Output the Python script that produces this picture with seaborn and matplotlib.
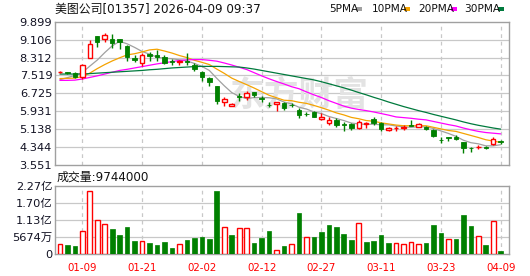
import matplotlib
matplotlib.use("Agg")
import matplotlib.pyplot as plt
from matplotlib.patches import Rectangle
import seaborn as sns
import numpy as np
import pandas as pd

# ---------------- data ----------------
title = "美图公司[01357] 2026-04-09 09:37"
vol_title = "成交量:9744000"

opens = [7.67, 7.66, 7.61, 7.46, 8.28, 9.28, 9.12, 9.12, 9.12, 8.82,
         8.30, 8.08, 8.45, 8.42, 8.32, 8.18, 8.10, 8.15, 7.99, 7.67,
         7.42, 7.05, 6.33, 6.17, 6.62, 6.58, 6.79, 6.53, 6.22, 6.25,
         6.31, 6.23, 5.99, 5.83, 5.90, 5.57, 5.40, 5.53, 5.36, 5.35,
         5.20, 5.35, 5.57, 5.40, 5.10, 5.18, 5.21, 5.33, 5.25, 5.25,
         5.10, 4.67, 4.77, 4.80, 4.57, 4.31, 4.35, 4.34, 4.47, 4.63]
highs = [7.72, 7.68, 7.66, 8.01, 9.09, 9.28, 9.38, 9.35, 9.12, 8.87,
         8.42, 8.50, 8.56, 8.63, 8.41, 8.23, 8.20, 8.50, 8.06, 7.70,
         7.43, 7.06, 6.55, 6.30, 6.72, 6.84, 6.80, 6.61, 6.33, 6.35,
         6.35, 6.28, 6.06, 5.90, 5.93, 5.84, 5.66, 5.62, 5.47, 5.42,
         5.54, 5.45, 5.66, 5.47, 5.24, 5.26, 5.32, 5.53, 5.40, 5.27,
         5.13, 4.78, 4.80, 4.88, 4.58, 4.36, 4.43, 4.40, 4.77, 4.66]
lows = [7.64, 7.60, 7.39, 7.35, 8.28, 8.79, 9.01, 8.72, 8.68, 8.17,
        8.10, 7.94, 8.17, 8.17, 8.02, 7.98, 7.98, 7.97, 7.73, 7.28,
        7.05, 6.25, 6.18, 6.15, 6.37, 6.43, 6.55, 6.35, 6.12, 5.96,
        5.99, 6.13, 5.65, 5.72, 5.66, 5.54, 5.31, 5.25, 5.07, 5.12,
        5.13, 5.17, 5.32, 5.07, 5.07, 5.07, 5.10, 5.28, 5.22, 5.10,
        4.80, 4.54, 4.63, 4.66, 4.10, 4.14, 4.27, 4.27, 4.42, 4.47]
closes = [7.69, 7.63, 7.46, 7.97, 8.91, 9.01, 9.30, 8.94, 9.00, 8.35,
          8.20, 8.41, 8.36, 8.35, 8.08, 8.12, 8.14, 8.12, 7.79, 7.43,
          7.21, 6.40, 6.47, 6.27, 6.58, 6.72, 6.65, 6.48, 6.20, 6.33,
          6.06, 6.21, 5.75, 5.81, 5.69, 5.69, 5.54, 5.32, 5.34, 5.17,
          5.47, 5.43, 5.40, 5.16, 5.20, 5.19, 5.23, 5.30, 5.35, 5.13,
          4.85, 4.65, 4.75, 4.70, 4.32, 4.29, 4.37, 4.32, 4.71, 4.55]

ma5 = [7.33, 7.42, 7.52, 7.65, 7.93, 8.20, 8.53, 8.83, 9.03, 8.92,
       8.76, 8.58, 8.46, 8.33, 8.28, 8.26, 8.21, 8.16, 8.05, 7.92,
       7.74, 7.39, 7.06, 6.76, 6.59, 6.49, 6.54, 6.54, 6.53, 6.48,
       6.34, 6.26, 6.11, 6.03, 5.90, 5.83, 5.70, 5.61, 5.52, 5.41,
       5.37, 5.35, 5.36, 5.33, 5.33, 5.28, 5.24, 5.22, 5.25, 5.24,
       5.17, 5.06, 4.95, 4.82, 4.65, 4.54, 4.49, 4.40, 4.40, 4.45]
ma10 = [7.38, 7.39, 7.40, 7.47, 7.62, 7.82, 8.00, 8.16, 8.30, 8.43,
        8.48, 8.56, 8.65, 8.68, 8.60, 8.51, 8.40, 8.31, 8.19, 8.10,
        8.00, 7.80, 7.61, 7.40, 7.25, 7.11, 6.96, 6.80, 6.64, 6.53,
        6.42, 6.40, 6.33, 6.28, 6.19, 6.09, 5.98, 5.86, 5.77, 5.66,
        5.60, 5.52, 5.49, 5.42, 5.37, 5.32, 5.29, 5.29, 5.29, 5.29,
        5.22, 5.15, 5.08, 5.04, 4.95, 4.86, 4.77, 4.67, 4.61, 4.55]
ma20 = [7.30, 7.30, 7.31, 7.36, 7.43, 7.50, 7.58, 7.66, 7.74, 7.79,
        7.85, 7.91, 7.97, 8.03, 8.08, 8.13, 8.18, 8.21, 8.22, 8.22,
        8.19, 8.15, 8.07, 7.98, 7.88, 7.78, 7.64, 7.50, 7.37, 7.25,
        7.14, 7.02, 6.93, 6.79, 6.66, 6.54, 6.40, 6.28, 6.16, 6.07,
        6.01, 5.96, 5.90, 5.83, 5.76, 5.68, 5.65, 5.62, 5.58, 5.55,
        5.48, 5.41, 5.34, 5.28, 5.19, 5.11, 5.04, 4.99, 4.96, 4.93]
ma30 = [7.58, 7.58, 7.58, 7.58, 7.60, 7.62, 7.64, 7.66, 7.68, 7.70,
        7.72, 7.74, 7.77, 7.79, 7.82, 7.85, 7.87, 7.89, 7.91, 7.92,
        7.92, 7.92, 7.91, 7.90, 7.89, 7.85, 7.80, 7.74, 7.68, 7.62,
        7.56, 7.50, 7.44, 7.38, 7.32, 7.24, 7.15, 7.06, 6.97, 6.87,
        6.76, 6.66, 6.55, 6.45, 6.34, 6.24, 6.14, 6.05, 5.96, 5.88,
        5.79, 5.71, 5.63, 5.55, 5.46, 5.38, 5.31, 5.25, 5.19, 5.14]

# volume in 亿 shares
volumes = [0.343, 0.310, 0.277, 0.775, 2.104, 1.141, 1.019, 0.842, 0.653, 0.919,
           0.454, 0.443, 0.388, 0.310, 0.421, 0.210, 0.343, 0.487, 0.554, 0.576,
           0.509, 2.104, 0.897, 0.642, 0.864, 0.864, 0.376, 0.543, 0.775, 0.133,
           0.277, 0.343, 1.373, 0.565, 0.576, 0.742, 0.974, 0.908, 0.675, 0.476,
           1.041, 0.410, 0.443, 0.642, 0.376, 0.365, 0.343, 0.399, 0.343, 0.376,
           0.974, 0.720, 0.498, 0.509, 1.307, 0.941, 0.598, 0.310, 1.096, 0.0974]
vol_dir = list("rggrrrrgggg" "rggggrgggggrgrrgggrgrgrggggggrggggrrrrgggrgggrgrg")

price_ticks = [3.551, 4.3445, 5.138, 5.9315, 6.725, 7.5185, 8.312, 9.1055, 9.899]
price_labels = ["3.551", "4.344", "5.138", "5.931", "6.725", "7.519", "8.312", "9.106", "9.899"]
vol_ticks = [0, 0.5674, 1.1348, 1.7022, 2.2696]
vol_labels = ["0", "5674万", "1.13亿", "1.70亿", "2.27亿"]
date_pos = [3, 11, 19, 27, 35, 43, 51, 59]
date_labels = ["01-09", "01-21", "02-02", "02-12", "02-27", "03-11", "03-23", "04-09"]

ma_names = ["5PMA", "10PMA", "20PMA", "30PMA"]
ma_colors = ["#a0a0a0", "#f5a300", "#ff00ff", "#007a3d"]

# ---------------- style ----------------
sns.set_style("white")
plt.rcParams["font.family"] = ["DejaVu Sans", "Noto Sans CJK SC"]
plt.rcParams["axes.unicode_minus"] = False

RED = "#ff0000"
GREEN = "#008000"
GRID = "#c8c8c8"
FRAME = "#a0a0a0"
TXT = "#111122"

fig = plt.figure(figsize=(5.30, 2.76), dpi=100)
ax = fig.add_axes([55 / 530, (276 - 165) / 276, 454 / 530, 143.3 / 276])
axv = fig.add_axes([55 / 530, (276 - 254.3) / 276, 454 / 530, 68.3 / 276])

x = np.arange(len(closes))
df = pd.DataFrame({"x": x, "open": opens, "high": highs, "low": lows, "close": closes,
                   "ma5": ma5, "ma10": ma10, "ma20": ma20, "ma30": ma30,
                   "vol": volumes, "vdir": vol_dir})

XLIM = (-0.656, 60.11)

for a in (ax, axv):
    a.set_xlim(*XLIM)
    for s in a.spines.values():
        s.set_color(FRAME)
        s.set_linewidth(1.0)
    a.tick_params(length=0)
    for p in date_pos:
        a.axvline(p, color=GRID, lw=0.9, ls=(0, (3, 3)), zorder=0.5)

# price grid
ax.set_ylim(price_ticks[0], price_ticks[-1])
ax.set_yticks(price_ticks)
ax.set_yticklabels(price_labels, fontsize=8.2, color=TXT)
ax.tick_params(axis="y", pad=2)
for t in price_ticks[1:-1]:
    ax.axhline(t, color=GRID, lw=0.9, zorder=0.5)
ax.set_xticks([])

# watermark
ax.text(0.565, 0.655, "东方财富", transform=fig.transFigure, fontsize=25,
        fontweight="bold", color="#e3e3e3", ha="center", va="center", zorder=0.6,
        family=["Noto Sans CJK SC"])

# moving averages
for col, c in zip(["ma5", "ma10", "ma20", "ma30"], ma_colors):
    sns.lineplot(data=df, x="x", y=col, color=c, lw=0.9, ax=ax, zorder=2)
ax.set_xlabel("")
ax.set_ylabel("")

# candles
W = 0.6
for i in range(len(df)):
    o, h, l, c = df.loc[i, ["open", "high", "low", "close"]]
    col = RED if c >= o else GREEN
    ax.vlines(i, l, h, color=col, lw=1.0, zorder=3)
    bottom = min(o, c)
    height = max(abs(c - o), 0.012)
    if c >= o:
        ax.bar(i, height, bottom=bottom, width=W, facecolor="white",
               edgecolor=col, lw=1.0, zorder=4)
    else:
        ax.bar(i, height, bottom=bottom, width=W, facecolor=col,
               edgecolor=col, lw=0.6, zorder=4)

# volume
axv.set_ylim(0, vol_ticks[-1])
axv.set_yticks(vol_ticks)
axv.set_yticklabels(vol_labels, fontsize=8.2, color=TXT)
axv.tick_params(axis="y", pad=2)
for t in vol_ticks[1:-1]:
    axv.axhline(t, color=GRID, lw=0.9, zorder=0.5)
for i in range(len(df)):
    v = df.loc[i, "vol"]
    if df.loc[i, "vdir"] == "r":
        axv.bar(i, v, width=0.62, facecolor="white", edgecolor=RED, lw=1.0, zorder=3)
    else:
        axv.bar(i, v, width=0.62, facecolor=GREEN, edgecolor=GREEN, lw=0.5, zorder=3)
axv.set_xticks(date_pos)
axv.set_xticklabels(date_labels, fontsize=7.4, color=RED)
axv.tick_params(axis="x", pad=6)

# texts
fig.text(55 / 530, 1 - 9 / 276, title, fontsize=8.6, color="#111111", va="center", ha="left")
fig.text(57 / 530, 1 - 177 / 276, vol_title, fontsize=8.6, color="#111111", va="center", ha="left")

# legend
leg_x = [329, 372, 418, 464]
sq_x = [356, 404, 451, 498]
for name, c, lx, sx in zip(ma_names, ma_colors, leg_x, sq_x):
    fig.text(lx / 530, 1 - 9 / 276, name, fontsize=7.6, color="#111111", va="center", ha="left")
    fig.patches.append(Rectangle((sx / 530, 1 - 10.5 / 276), 6 / 530, 3.5 / 276,
                                 transform=fig.transFigure, facecolor=c, edgecolor="none"))

fig.savefig("out.png", dpi=100)
